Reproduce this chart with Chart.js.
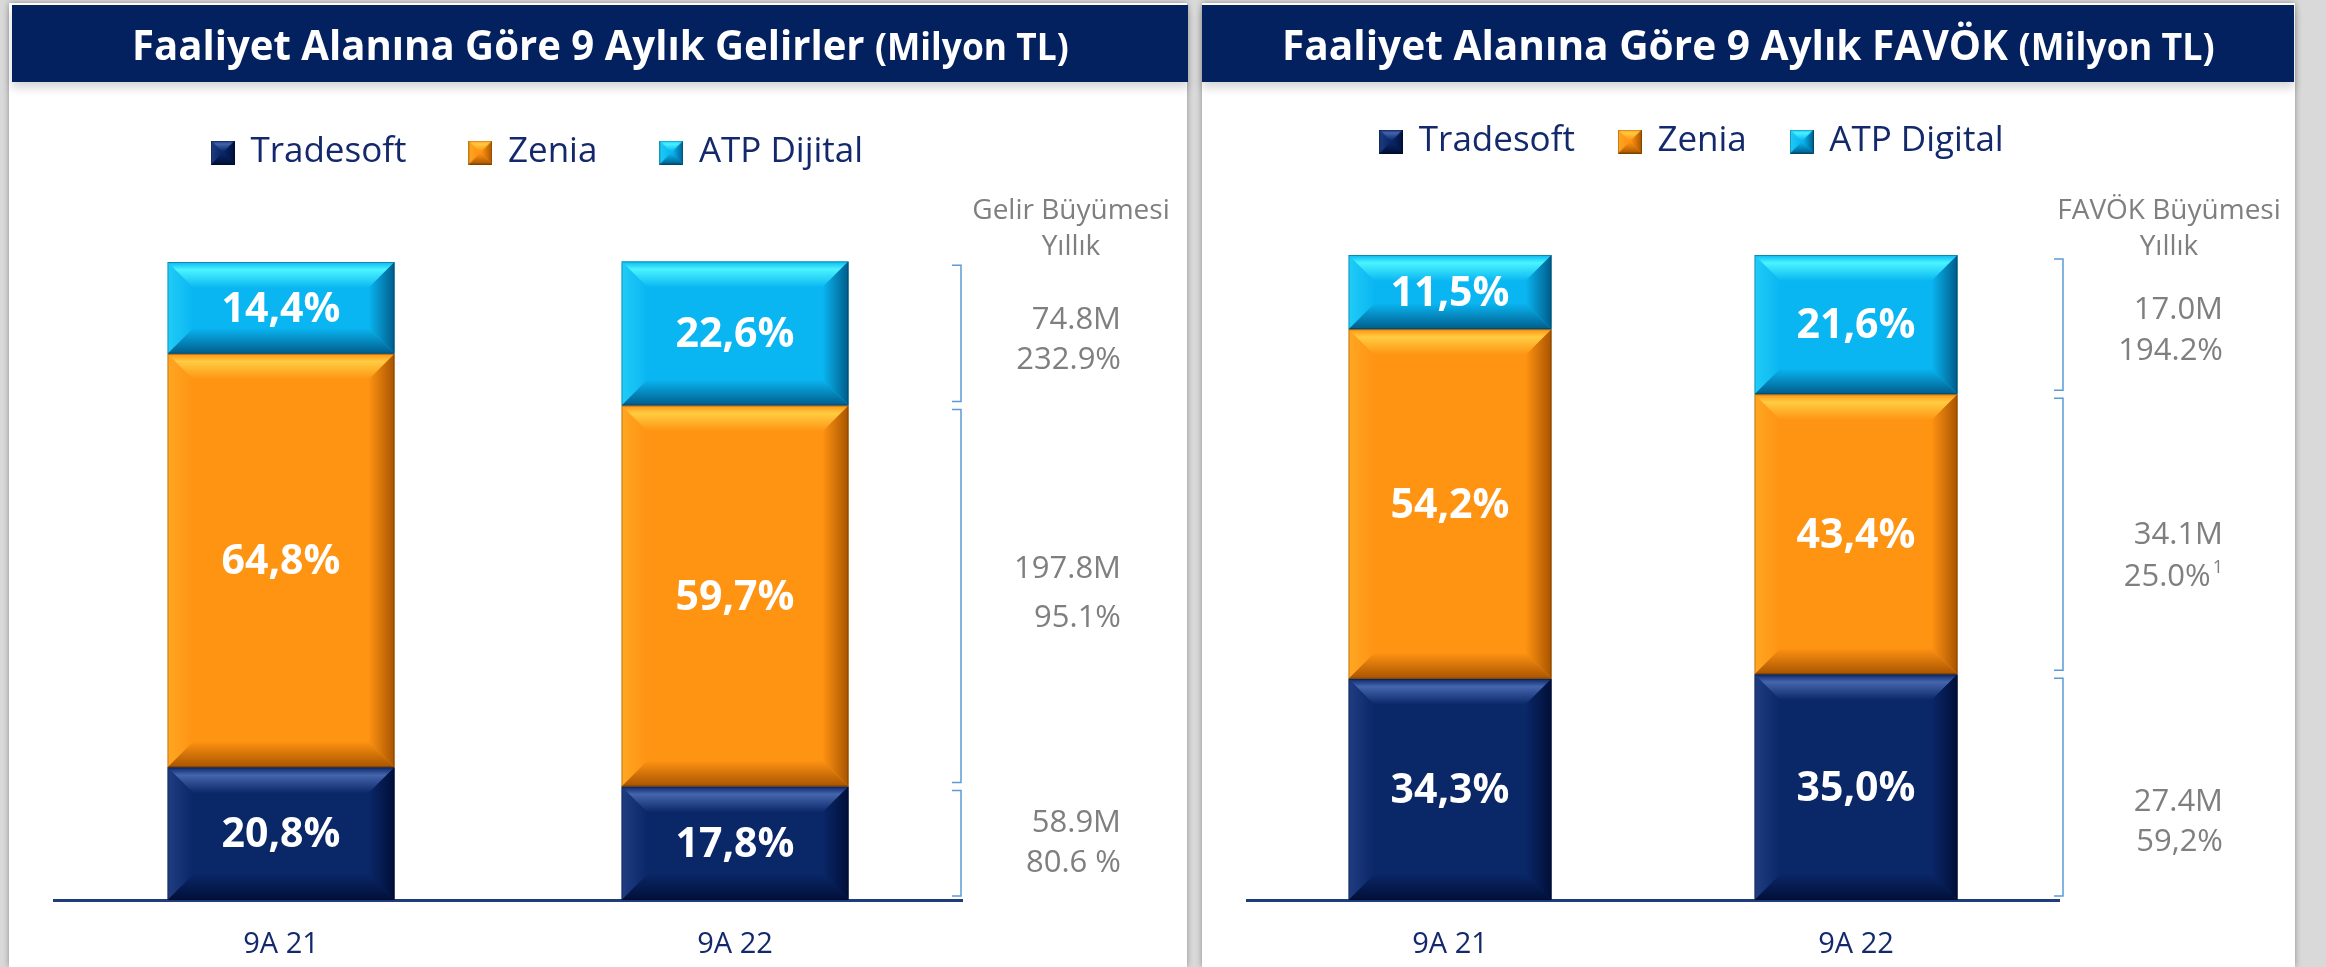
<!DOCTYPE html>
<html>
<head>
<meta charset="utf-8">
<script src="https://cdn.jsdelivr.net/npm/chart.js@4.4.0/dist/chart.umd.min.js"></script>
<style>
  html, body { margin: 0; padding: 0; }
  body { width: 2326px; height: 967px; background: #d9d9d9; position: relative; overflow: hidden; font-family: 'Open Sans', sans-serif; }
  .panel { position: absolute; top: 3px; bottom: 0; background: #fff; box-shadow: 0 0 6px rgba(0,0,0,.35); }
  .title { position: absolute; top: 5px; height: 77px; background: #03205f; color: #fff; display: flex; align-items: center; justify-content: center; box-shadow: 0 6px 9px rgba(0,0,0,.16); z-index: 2; }
  .title span { display: inline-block; white-space: nowrap; font-weight: 700; font-size: 42px; line-height: 1; }
  .title small { font-size: 37px; }
  canvas { position: absolute; top: 0; z-index: 1; }
</style>
</head>
<body>

<div class="panel" style="left:9px; width:1178px"></div>
<div class="panel" style="left:1202px; width:1093px"></div>
<div class="title" style="left:12px; width:1176px"><span id="t1">Faaliyet Alanına Göre 9 Aylık Gelirler <small>(Milyon TL)</small></span></div>
<div class="title" style="left:1202px; width:1092px"><span id="t2">Faaliyet Alanına Göre 9 Aylık FAVÖK <small>(Milyon TL)</small></span></div>
<canvas id="c1" width="1178" height="967" style="left:9px"></canvas>
<canvas id="c2" width="1093" height="967" style="left:1202px"></canvas>

<script type="text/javascript">
	var categories = ['9A 21', '9A 22'];

	// gelir payları (%)
	var gelirTradesoft = [20.8, 17.8];
	var gelirZenia = [64.8, 59.7];
	var gelirAtp = [14.4, 22.6];

	// favök payları (%)
	var favokTradesoft = [34.3, 35.0];
	var favokZenia = [54.2, 43.4];
	var favokAtp = [11.5, 21.6];

	// yıllık büyüme, alttan üste: Tradesoft, Zenia, ATP
	var gelirBuyumeTutar = ['58.9M', '197.8M', '74.8M'];
	var gelirBuyumeOran = ['80.6 %', '95.1%', '232.9%'];
	var favokBuyumeTutar = ['27.4M', '34.1M', '17.0M'];
	var favokBuyumeOran = ['59,2%', '25.0%', '194.2%'];
	var favokDipnot = ['', '1', ''];

	var names1 = ['Tradesoft', 'Zenia', 'ATP Dijital'];
	var names2 = ['Tradesoft', 'Zenia', 'ATP Digital'];

	var palette = [
		{base: '#0a2768', light: '#4565ad', dark: '#010f38'},
		{base: '#ff9312', light: '#ffcc42', dark: '#a85400'},
		{base: '#0ab6f2', light: '#4af4ff', dark: '#005c8a'}
	];

	function poly(ctx, pts) {
		ctx.beginPath();
		ctx.moveTo(pts[0][0], pts[0][1]);
		for (var i = 1; i < pts.length; i++) ctx.lineTo(pts[i][0], pts[i][1]);
		ctx.closePath();
		ctx.fill();
	}

	// office-like bevel on a rectangle
	function bevel(ctx, L, T, R, B, b, c) {
		var g = ctx.createLinearGradient(0, T, 0, T + b);
		g.addColorStop(0, c.base);
		g.addColorStop(0.3, c.light);
		g.addColorStop(1, c.base);
		ctx.fillStyle = g;
		poly(ctx, [[L, T], [R, T], [R - b, T + b], [L + b, T + b]]);

		g = ctx.createLinearGradient(0, B - b, 0, B);
		g.addColorStop(0, c.base);
		g.addColorStop(1, c.dark);
		ctx.fillStyle = g;
		poly(ctx, [[L, B], [R, B], [R - b, B - b], [L + b, B - b]]);

		ctx.save();
		ctx.globalAlpha = 0.35;
		g = ctx.createLinearGradient(L, 0, L + b, 0);
		g.addColorStop(0, c.light);
		g.addColorStop(1, c.base);
		ctx.fillStyle = g;
		poly(ctx, [[L, T], [L + b, T + b], [L + b, B - b], [L, B]]);
		ctx.restore();

		g = ctx.createLinearGradient(R - b, 0, R, 0);
		g.addColorStop(0, c.base);
		g.addColorStop(1, c.dark);
		ctx.fillStyle = g;
		poly(ctx, [[R, T], [R - b, T + b], [R - b, B - b], [R, B]]);

		ctx.strokeStyle = 'rgba(0,0,0,0.25)';
		ctx.lineWidth = 1;
		ctx.strokeRect(L + 0.5, T + 0.5, R - L - 1, B - T - 1);
	}

	function markerImg(c) {
		var cv = document.createElement('canvas');
		cv.width = 24; cv.height = 24;
		var x = cv.getContext('2d');
		x.fillStyle = c.base;
		x.fillRect(0, 0, 24, 24);
		bevel(x, 0, 0, 24, 24, 11, c);
		return cv;
	}

	function fmt(v) {
		return v.toFixed(1).replace('.', ',') + '%';
	}

	// legend'in altina bosluk ekler
	var legendSpacer = {
		id: 'legendSpacer',
		beforeInit: function(chart, args, opts) {
			var lg = chart.legend;
			var fit = lg.fit;
			lg.fit = function() {
				fit.call(this);
				this.height += opts.extra;
			};
		}
	};

	var bevelBars = {
		id: 'bevelBars',
		afterDatasetsDraw: function(chart) {
			var ctx = chart.ctx;
			chart.data.datasets.forEach(function(ds, i) {
				var meta = chart.getDatasetMeta(i);
				meta.data.forEach(function(el, j) {
					var p = el.getProps(['x', 'y', 'base', 'width'], true);
					var L = p.x - p.width / 2, R = p.x + p.width / 2;
					var T = Math.min(p.y, p.base), B = Math.max(p.y, p.base);
					ctx.save();
					bevel(ctx, L, T, R, B, 26, palette[i]);
					ctx.fillStyle = '#ffffff';
					ctx.font = 'bold 41px "Open Sans"';
					ctx.textAlign = 'center';
					ctx.textBaseline = 'middle';
					ctx.fillText(fmt(ds.data[j]), p.x, (T + B) / 2 + 2);
					ctx.restore();
				});
			});
		}
	};

	var growthNotes = {
		id: 'growthNotes',
		afterDraw: function(chart, args, o) {
			var ctx = chart.ctx;
			var area = chart.chartArea;
			ctx.save();
			ctx.fillStyle = '#7f7f7f';
			ctx.textBaseline = 'middle';
			ctx.textAlign = 'center';
			ctx.font = '28px "Open Sans"';
			ctx.fillText(o.header[0], area.right + o.headDx, 211);
			ctx.fillText(o.header[1], area.right + o.headDx, 247);

			for (var i = 0; i < 3; i++) {
				var el = chart.getDatasetMeta(i).data[1];
				var p = el.getProps(['y', 'base'], true);
				var T = Math.min(p.y, p.base), B = Math.max(p.y, p.base);
				// köşeli parantez
				var bx = area.right + o.bracketDx;
				ctx.strokeStyle = '#5b9bd5';
				ctx.lineWidth = 1.5;
				ctx.beginPath();
				ctx.moveTo(bx - 9, T + 4);
				ctx.lineTo(bx, T + 4);
				ctx.lineTo(bx, B - 4);
				ctx.lineTo(bx - 9, B - 4);
				ctx.stroke();

				var cy = (T + B) / 2 + o.shift[i];
				var h = o.gap[i] / 2;
				var rx = area.right + o.textDx;
				ctx.font = '31px "Open Sans"';
				ctx.textAlign = 'right';
				ctx.fillText(o.amount[i], rx, cy - h);
				var note = o.notes ? o.notes[i] : '';
				if (note) {
					ctx.font = '18px "Open Sans"';
					var nw = ctx.measureText(note).width + 2;
					ctx.textAlign = 'left';
					ctx.fillText(note, rx - nw + 2, cy + h - 9);
					ctx.font = '31px "Open Sans"';
					ctx.textAlign = 'right';
					ctx.fillText(o.pct[i], rx - nw, cy + h);
				} else {
					ctx.fillText(o.pct[i], rx, cy + h);
				}
			}
			ctx.restore();
		}
	};

	function buildChart(id, names, series, notes, lay) {
		var datasets = series.map(function(d, i) {
			return {
				label: names[i],
				data: d,
				backgroundColor: palette[i].base,
				borderWidth: 0,
				barPercentage: 0.5,
				categoryPercentage: 1,
				pointStyle: markerImg(palette[i])
			};
		});

		return new Chart(document.getElementById(id), {
			type: 'bar',
			data: {labels: categories, datasets: datasets},
			options: {
				responsive: false,
				animation: false,
				devicePixelRatio: 1,
				layout: {padding: {top: lay.padTop, right: lay.padRight, left: 0, bottom: 0}},
				plugins: {
					legend: {
						labels: {
							usePointStyle: true,
							pointStyleWidth: 20,
							padding: lay.legendGap,
							color: '#13296b',
							font: {family: 'Open Sans', size: 35}
						}
					},
					tooltip: {enabled: false},
					legendSpacer: {extra: lay.legendExtra},
					growthNotes: notes
				},
				scales: {
					x: {
						stacked: true,
						z: 1,
						grid: {display: false, drawTicks: false},
						border: {display: true, color: '#1f3c7d', width: 3},
						ticks: {color: '#13296b', font: {family: 'Open Sans', size: 29}, padding: 27},
						afterFit: function(a) { a.height = 67; }
					},
					y: {
						stacked: true, min: 0, max: 100,
						grid: {display: false, drawTicks: false},
						border: {display: false},
						ticks: {display: false},
						afterFit: function(a) { a.width = lay.leftAxis; }
					},
					y2: {
						type: 'linear', position: 'right', min: 0, max: 100,
						grid: {display: false, drawTicks: false},
						border: {display: false},
						ticks: {display: false},
						afterFit: function(a) { a.width = lay.rightAxis; }
					}
				}
			},
			plugins: [legendSpacer, bevelBars, growthNotes]
		});
	}

	buildChart('c1', names1, [gelirTradesoft, gelirZenia, gelirAtp], {
		header: ['Gelir Büyümesi', 'Yıllık'],
		amount: gelirBuyumeTutar, pct: gelirBuyumeOran,
		headDx: 109, textDx: 159, bracketDx: -1,
		shift: [0, -2, 7], gap: [40, 49, 40]
	}, {padTop: 71, legendGap: 64, legendExtra: 82, padRight: 120, leftAxis: 45, rightAxis: 105});

	buildChart('c2', names2, [favokTradesoft, favokZenia, favokAtp], {
		header: ['FAVÖK Büyümesi', 'Yıllık'],
		amount: favokBuyumeTutar, pct: favokBuyumeOran, notes: favokDipnot,
		headDx: 110, textDx: 164, bracketDx: 4,
		shift: [35, 22, 6], gap: [40, 42, 41]
	}, {padTop: 79, legendGap: 45, legendExtra: 86, padRight: 112, leftAxis: 45, rightAxis: 124});

	// başlıkları referans genişliğine sıkıştır
	function fitTitle(id, w) {
		var el = document.getElementById(id);
		el.style.transform = 'scaleX(' + (w / el.offsetWidth) + ')';
	}
	fitTitle('t1', 937);
	fitTitle('t2', 933);
</script>
</body>
</html>
